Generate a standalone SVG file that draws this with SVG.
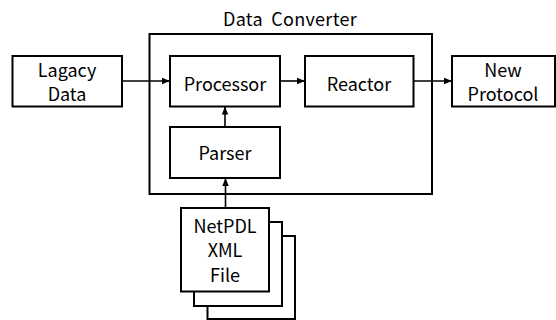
<svg xmlns="http://www.w3.org/2000/svg" width="556" height="320" viewBox="0 0 556 320">
  <style>
    .box { fill: #fff; stroke: #000; stroke-width: 2; }
    .frame { fill: none; stroke: #000; stroke-width: 2; }
    .lbl { font-family: "Noto Sans CJK KR", "Noto Sans", sans-serif; font-size: 18px; fill: #000; text-anchor: middle; }
    .title { word-spacing: 4px; letter-spacing: 0.3px; }
    .link { stroke: #000; stroke-width: 1.6; fill: none; marker-end: url(#arrow); }
  </style>
  <defs>
    <marker id="arrow" viewBox="0 0 8 8" refX="8" refY="4" markerWidth="8" markerHeight="8" markerUnits="userSpaceOnUse" orient="auto">
      <path d="M0,0.8 L8,4 L0,7.2 Z" fill="#000"/>
    </marker>
  </defs>
  <rect width="556" height="320" fill="#fff"/>

  <!-- Data Converter container -->
  <g id="data-converter">
    <rect class="frame" x="149.5" y="34" width="282.5" height="160"/>
    <text class="lbl title" x="290" y="25.5">Data Converter</text>
  </g>

  <g id="legacy-data">
    <rect class="box" x="12.5" y="56" width="109.5" height="50.5"/>
    <text class="lbl" x="67" y="77">Lagacy</text>
    <text class="lbl" x="67" y="101">Data</text>
  </g>

  <g id="processor">
    <rect class="box" x="170" y="56" width="110" height="50.5"/>
    <text class="lbl" x="225" y="90.5">Processor</text>
  </g>

  <g id="reactor">
    <rect class="box" x="305" y="56" width="108.5" height="50.5"/>
    <text class="lbl" x="359" y="90.5">Reactor</text>
  </g>

  <g id="new-protocol">
    <rect class="box" x="452" y="56" width="103" height="50.5"/>
    <text class="lbl" x="503" y="77">New</text>
    <text class="lbl" x="503" y="101">Protocol</text>
  </g>

  <g id="parser">
    <rect class="box" x="170" y="127" width="110" height="51"/>
    <text class="lbl" x="225" y="160">Parser</text>
  </g>

  <!-- stacked document sheets -->
  <g id="netpdl-xml-file">
    <rect class="box" x="207.5" y="236" width="87.5" height="83"/>
    <rect class="box" x="194" y="222" width="88" height="84"/>
    <rect class="box" x="181" y="208" width="88" height="83.5"/>
    <text class="lbl" x="225" y="232.5">NetPDL</text>
    <text class="lbl" x="225" y="257">XML</text>
    <text class="lbl" x="225" y="281.5">File</text>
  </g>

  <g id="connectors">
    <line class="link" x1="122" y1="81" x2="170" y2="81"/>
    <line class="link" x1="280" y1="81" x2="305" y2="81"/>
    <line class="link" x1="413.5" y1="81" x2="452" y2="81"/>
    <line class="link" x1="225" y1="127" x2="225" y2="106.5"/>
    <line class="link" x1="225.5" y1="208" x2="225.5" y2="178"/>
  </g>
</svg>
